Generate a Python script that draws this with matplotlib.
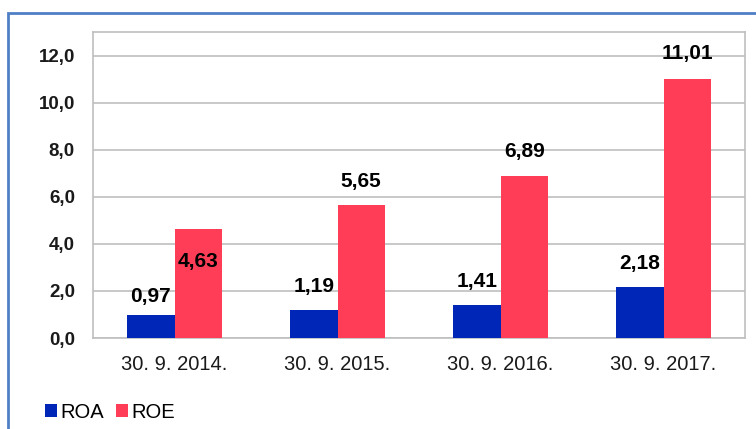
import matplotlib.pyplot as plt
from matplotlib.patches import Rectangle
import numpy as np

plt.rcParams['font.family'] = ['Liberation Sans', 'DejaVu Sans']

dates = ['30. 9. 2014.', '30. 9. 2015.', '30. 9. 2016.', '30. 9. 2017.']
roa = [0.97, 1.19, 1.41, 2.18]
roe = [4.63, 5.65, 6.89, 11.01]

roa_col = '#0026B8'
roe_col = '#FF3D57'

# label offsets in px (first ROE label sits inside the bar)
roa_off = [19, 23, 23, 23]
roe_off = [-32, 24, 24, 25]

fig = plt.figure(figsize=(7.56, 4.29), dpi=100)
ax = fig.add_axes([93/756, 1-338/429, (745-93)/756, (338-32)/429])

x = np.arange(len(dates))
w = 0.29
b1 = ax.bar(x - w/2, roa, w, color=roa_col, label='ROA', zorder=3)
b2 = ax.bar(x + w/2, roe, w, color=roe_col, label='ROE', zorder=3)

def fmt(v):
    return f'{v:.2f}'.replace('.', ',')

for xi, v, o in zip(x - w/2, roa, roa_off):
    ax.annotate(fmt(v), (xi, v), xytext=(0, o*0.72), textcoords='offset points',
                ha='center', va='center', fontsize=15, fontweight='bold', zorder=4)
for xi, v, o in zip(x + w/2, roe, roe_off):
    ax.annotate(fmt(v), (xi, v), xytext=(0, o*0.72), textcoords='offset points',
                ha='center', va='center', fontsize=15, fontweight='bold', zorder=4)

ax.set_xlim(-0.5, 3.5)
ax.set_ylim(0, 13)
ax.set_yticks(np.arange(0, 13, 2))
ax.set_yticklabels([f'{t:.1f}'.replace('.', ',') for t in np.arange(0, 13, 2)],
                   fontweight='bold')
ax.set_xticks(x)
ax.set_xticklabels(dates)
ax.tick_params(axis='y', length=0, pad=13, labelsize=13.5, labelcolor='#1a1a1a')
ax.tick_params(axis='x', length=0, pad=12, labelsize=14.5, labelcolor='#1a1a1a')
ax.grid(axis='y', color='#BFBFBF', lw=1.2, zorder=0)
for s in ax.spines.values():
    s.set_color('#BFBFBF')
    s.set_linewidth(1.2)

fig.legend(handles=[b1, b2], loc='center left', bbox_to_anchor=(45/756, 1-412/429),
           ncol=2, frameon=False, fontsize=14.5, handlelength=0.6, handleheight=0.6,
           handletextpad=0.15, columnspacing=0.6, borderaxespad=0, borderpad=0)

# blue outer frame (cut off at right and bottom)
fig.patches.append(Rectangle((8/756, -0.1), 1.2, 1-13/429+0.1, transform=fig.transFigure,
                             fill=False, edgecolor='#4F7FC4', lw=2))

plt.savefig('out.png', dpi=100)
